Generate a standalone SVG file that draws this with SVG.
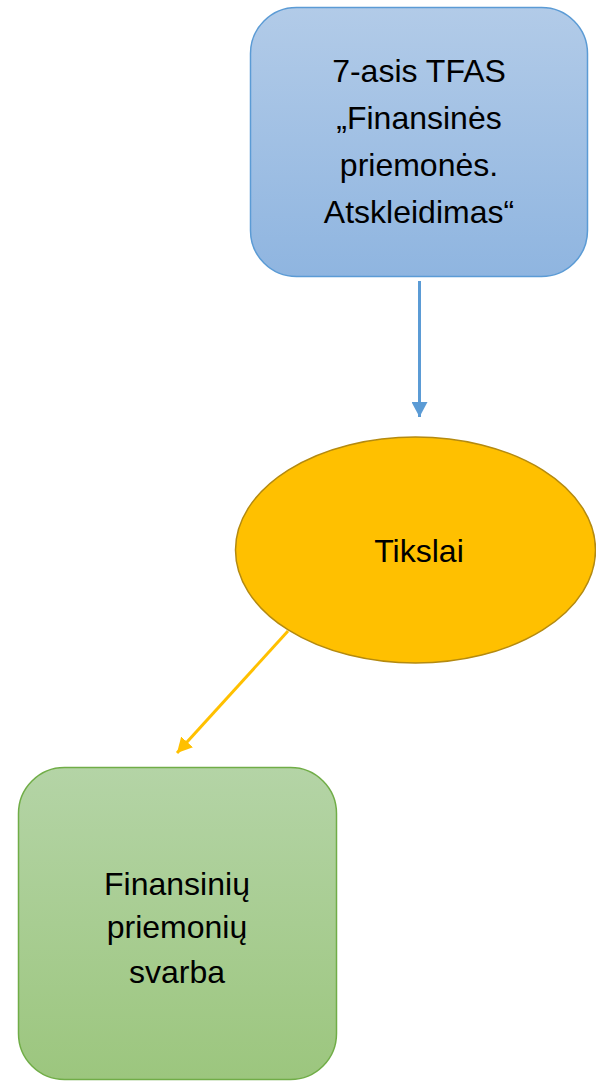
<svg xmlns="http://www.w3.org/2000/svg" width="596" height="1081" viewBox="0 0 596 1081">
<style>
.t{font-family:"Liberation Sans",Arial,sans-serif;font-size:32px;fill:#000;text-anchor:middle}
</style>
<defs>
<linearGradient id="gb" x1="0" y1="0" x2="0" y2="1"><stop offset="0" stop-color="#b2cbe8"/><stop offset="1" stop-color="#8fb5e0"/></linearGradient>
<linearGradient id="gg" x1="0" y1="0" x2="0" y2="1"><stop offset="0" stop-color="#b4d4a6"/><stop offset="1" stop-color="#9cc67e"/></linearGradient>
<marker id="ab" markerWidth="16" markerHeight="16" refX="15" refY="8" orient="auto" markerUnits="userSpaceOnUse"><path d="M0,0 L15,8 L0,16 z" fill="#5b9bd5"/></marker>
<marker id="ay" markerWidth="16" markerHeight="16" refX="15" refY="8" orient="auto" markerUnits="userSpaceOnUse"><path d="M0,0 L15,8 L0,16 z" fill="#ffc000"/></marker>
</defs>
<rect width="596" height="1081" fill="#fff"/>
<g id="connectors">
<line x1="419.5" y1="281" x2="419.5" y2="417" stroke="#5b9bd5" stroke-width="3" marker-end="url(#ab)"/>
<line x1="288" y1="631" x2="177" y2="753" stroke="#ffc000" stroke-width="3" marker-end="url(#ay)"/>
</g>
<g id="node-tfas">
<rect x="250.5" y="7.5" width="337" height="269" rx="46" fill="url(#gb)" stroke="#5b9bd5" stroke-width="1.5"/>
<text class="t" x="419" y="82">7-asis TFAS</text>
<text class="t" x="419" y="129">„Finansinės</text>
<text class="t" x="419" y="176">priemonės.</text>
<text class="t" x="419" y="223">Atskleidimas“</text>
</g>
<g id="node-tikslai">
<ellipse cx="415.5" cy="550" rx="180" ry="113" fill="#ffc000" stroke="#b48a10" stroke-width="1.5"/>
<text class="t" x="419" y="562">Tikslai</text>
</g>
<g id="node-svarba">
<rect x="18.5" y="767.5" width="318" height="312" rx="46" fill="url(#gg)" stroke="#70ad47" stroke-width="1.5"/>
<text class="t" x="177" y="895">Finansinių</text>
<text class="t" x="177" y="938">priemonių</text>
<text class="t" x="177" y="983">svarba</text>
</g>
</svg>
